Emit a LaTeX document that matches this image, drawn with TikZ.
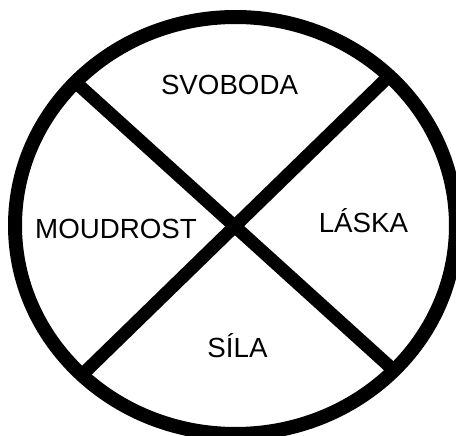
\documentclass[tikz,border=0pt]{standalone}
\usepackage{fontspec}
\setmainfont{Liberation Sans}
\begin{document}
\begin{tikzpicture}[x=1pt,y=-1pt,
  ring/.style={line width=14pt,draw=black},
  bar/.style={line width=13pt,draw=black},
  lab/.style={anchor=base,inner sep=0pt,font=\fontsize{27.7}{33}\selectfont}]
\useasboundingbox (0,0) rectangle (456,436);
\clip (0,0) rectangle (456,436);
\fill[white] (0,0) rectangle (456,436);
\coordinate (c) at (235.5,225.5);
\coordinate (ul) at (75.4,82.1);
\coordinate (lr) at (394,370.5);
\coordinate (ur) at (389.1,76);
\coordinate (ll) at (81.8,375.1);
\draw[bar] (ul) -- (lr);
\draw[bar] (ur) -- (ll);
\draw[ring] (c) ellipse [x radius=220.5, y radius=208.5];
\node[lab] (svoboda) at (229.5,95) {SVOBODA};
\node[lab] (moudrost) at (116,238) {MOUDROST};
\node[lab] (laska) at (363.5,233) {LÁSKA};
\node[lab] (sila) at (237.5,357) {SÍLA};
\end{tikzpicture}
\end{document}
